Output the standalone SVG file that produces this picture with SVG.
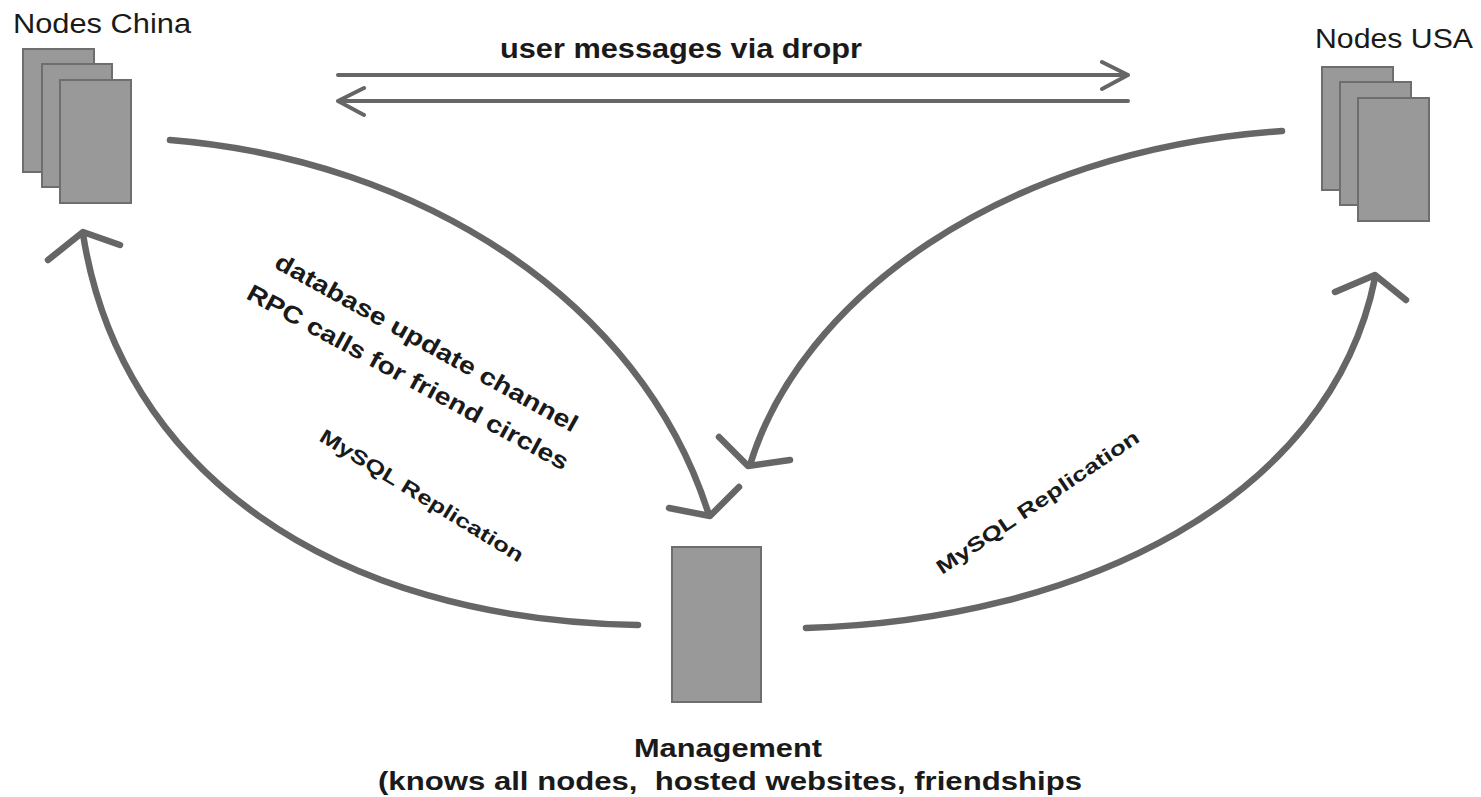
<svg xmlns="http://www.w3.org/2000/svg" width="1481" height="797" viewBox="0 0 1481 797">
<style>
.box{fill:#999;stroke:#6e6e6e;stroke-width:2}
.lbl{font-family:"Liberation Sans",Arial,sans-serif;fill:#1a1a1a}
.b{font-weight:bold}
.ln{fill:none;stroke:#666;stroke-width:4;stroke-linecap:round;stroke-linejoin:round}
.cv{fill:none;stroke:#666;stroke-width:6.5;stroke-linecap:round;stroke-linejoin:round}
</style>
<rect width="1481" height="797" fill="#fff"/>
<g id="nodes-china">
<rect class="box" x="23" y="49" width="71" height="123"/>
<rect class="box" x="42" y="64" width="70" height="123"/>
<rect class="box" x="60" y="80" width="71" height="123"/>
<text class="lbl" x="13" y="33" font-size="27" textLength="178" lengthAdjust="spacingAndGlyphs">Nodes China</text>
</g>
<g id="nodes-usa">
<rect class="box" x="1322" y="67" width="71" height="123"/>
<rect class="box" x="1340" y="82" width="71" height="123"/>
<rect class="box" x="1358" y="98" width="71" height="123"/>
<text class="lbl" x="1315" y="48" font-size="27" textLength="158" lengthAdjust="spacingAndGlyphs">Nodes USA</text>
</g>
<g id="management">
<rect class="box" x="672" y="547" width="89" height="155"/>
<text class="lbl b" x="634" y="757" font-size="25" textLength="188" lengthAdjust="spacingAndGlyphs">Management</text>
<text class="lbl b" x="378" y="790" font-size="25" textLength="704" lengthAdjust="spacingAndGlyphs" xml:space="preserve">(knows all nodes,  hosted websites, friendships</text>
</g>
<g id="connectors">
<path class="ln" d="M338 75 L1128 75 M1102 62 L1128 75 L1102 89"/>
<path class="ln" d="M1128 101 L338 101 M364 88 L338 101 L364 115"/>
<text class="lbl b" x="500" y="58" font-size="27" textLength="362" lengthAdjust="spacingAndGlyphs">user messages via dropr</text>
<path class="cv" d="M170 140 C420 160 640 300 708 512"/>
<path class="cv" d="M669 508 L710 516 L739 487"/>
<path class="cv" d="M1282 131 C1000 150 800 300 750 465"/>
<path class="cv" d="M719 437 L748 466 L790 460"/>
<path class="cv" d="M638 625 C330 620 120 470 83 234"/>
<path class="cv" d="M48 260 L83 232 L120 245"/>
<path class="cv" d="M806 628 C1080 620 1330 500 1375 278"/>
<path class="cv" d="M1335 292 L1375 275 L1406 300"/>
<text class="lbl b" transform="translate(273,267) rotate(29)" font-size="24" textLength="342" lengthAdjust="spacingAndGlyphs">database update channel</text>
<text class="lbl b" transform="translate(245,298) rotate(28.5)" font-size="24" textLength="362" lengthAdjust="spacingAndGlyphs">RPC calls for friend circles</text>
<text class="lbl b" transform="translate(318,440) rotate(31.5)" font-size="20" textLength="235" lengthAdjust="spacingAndGlyphs">MySQL Replication</text>
<text class="lbl b" transform="translate(942,575) rotate(-34)" font-size="20" textLength="240" lengthAdjust="spacingAndGlyphs">MySQL Replication</text>
</g>
</svg>
